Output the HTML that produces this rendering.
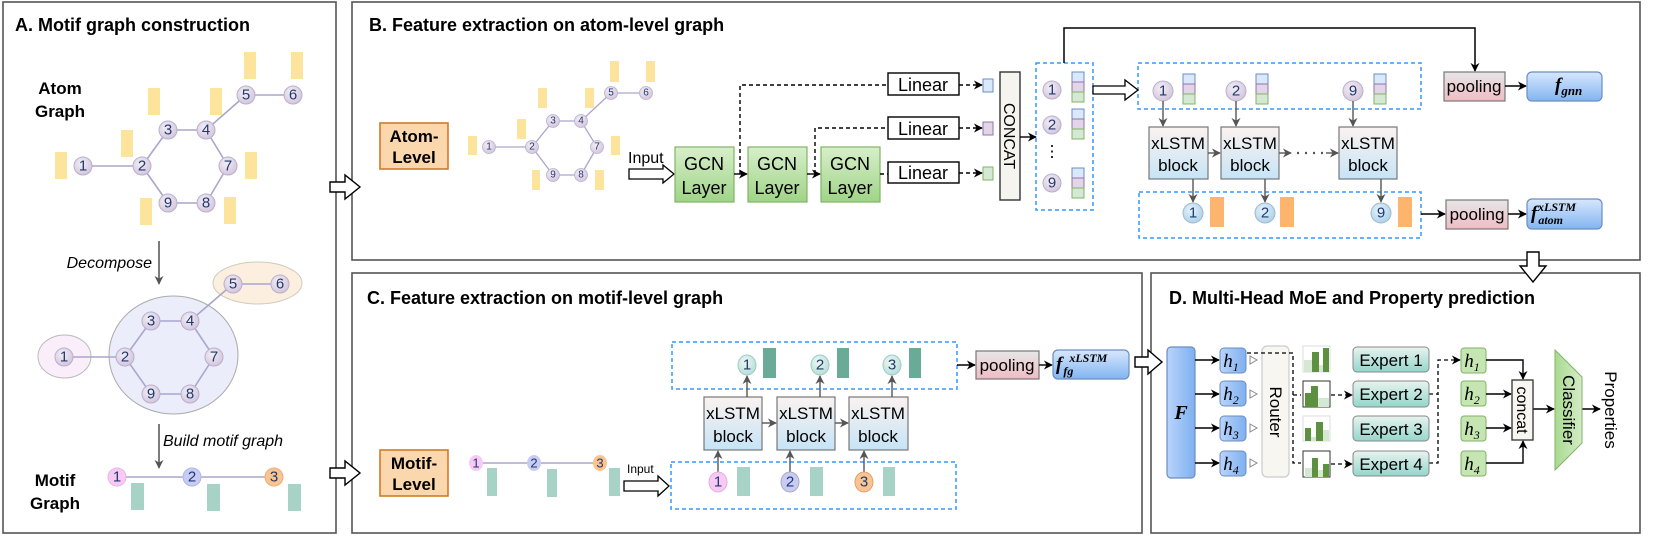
<!DOCTYPE html>
<html><head><meta charset="utf-8"><style>
html,body{margin:0;padding:0;background:#fff;}
svg{display:block;font-family:"Liberation Sans",sans-serif;}
.t{font-weight:bold;font-size:18px;fill:#000;}
.n{font-size:15px;fill:#1f3a6e;text-anchor:middle;dominant-baseline:central;}
.m{font-family:"Liberation Serif",serif;font-style:italic;}
</style></head><body>
<svg width="1661" height="560" viewBox="0 0 1661 560" xmlns="http://www.w3.org/2000/svg">
<defs>
<radialGradient id="ng" cx="40%" cy="35%" r="70%"><stop offset="0" stop-color="#f3eef6"/><stop offset="1" stop-color="#d2c4da"/></radialGradient>
<radialGradient id="bg" cx="40%" cy="35%" r="70%"><stop offset="0" stop-color="#e6f3fb"/><stop offset="1" stop-color="#a9d0e8"/></radialGradient>
<radialGradient id="tg" cx="40%" cy="35%" r="70%"><stop offset="0" stop-color="#eef8f4"/><stop offset="1" stop-color="#b6ddd2"/></radialGradient>
<linearGradient id="gcn" x1="0" y1="0" x2="0" y2="1"><stop offset="0" stop-color="#d8efcb"/><stop offset="1" stop-color="#9fd487"/></linearGradient>
<linearGradient id="xl" x1="0" y1="0" x2="0" y2="1"><stop offset="0" stop-color="#fbf2f0"/><stop offset="1" stop-color="#c6e4f6"/></linearGradient>
<linearGradient id="pl" x1="0" y1="0" x2="0" y2="1"><stop offset="0" stop-color="#e6e6e6"/><stop offset="1" stop-color="#efbcc4"/></linearGradient>
<linearGradient id="fb" x1="0" y1="0" x2="0" y2="1"><stop offset="0" stop-color="#d8e7fc"/><stop offset="1" stop-color="#82b5f1"/></linearGradient>
<linearGradient id="fh" x1="0" y1="0" x2="1" y2="0"><stop offset="0" stop-color="#b9d4fb"/><stop offset="1" stop-color="#7fb0f0"/></linearGradient>
<linearGradient id="ex" x1="0" y1="0" x2="0" y2="1"><stop offset="0" stop-color="#e9f3ef"/><stop offset="1" stop-color="#93d6cb"/></linearGradient>
<linearGradient id="cl" x1="0" y1="0" x2="1" y2="0"><stop offset="0" stop-color="#a9da90"/><stop offset="1" stop-color="#d4ecc8"/></linearGradient>
<marker id="a" viewBox="0 0 10 10" refX="9" refY="5" markerWidth="9" markerHeight="9" orient="auto" markerUnits="userSpaceOnUse"><path d="M0,0 L10,5 L0,10 L3,5 z" fill="#000"/></marker>
<marker id="g" viewBox="0 0 10 10" refX="9" refY="5" markerWidth="9" markerHeight="9" orient="auto" markerUnits="userSpaceOnUse"><path d="M0,0 L10,5 L0,10 L3,5 z" fill="#555"/></marker>
</defs>

<!-- panels -->
<g fill="none" stroke="#555" stroke-width="1.6">
<rect x="3" y="2" width="333" height="531"/>
<rect x="352" y="2" width="1288" height="258"/>
<rect x="352" y="273" width="790" height="260"/>
<rect x="1151" y="273" width="489" height="260"/>
</g>
<text class="t" x="15" y="31">A. Motif graph construction</text>
<text class="t" x="369" y="31">B. Feature extraction on atom-level graph</text>
<text class="t" x="367" y="304">C. Feature extraction on motif-level graph</text>
<text class="t" x="1169" y="304">D. Multi-Head MoE and Property prediction</text>

<!-- hollow arrows between panels -->
<g fill="#fff" stroke="#000" stroke-width="1.4">
<path d="M330,182 L345,182 L345,175 L360,187 L345,199 L345,192 L330,192 z"/>
<path d="M330,468 L345,468 L345,461 L360,473 L345,485 L345,478 L330,478 z"/>
<path d="M1527,252 L1539,252 L1539,266 L1546,266 L1533,282 L1520,266 L1527,266 z"/>
<path d="M1135,357 L1148,357 L1148,350 L1162,362 L1148,374 L1148,367 L1135,367 z"/>
</g>

<!-- ===== Panel A ===== -->
<text x="60" y="94" font-size="17" font-weight="bold" text-anchor="middle">Atom</text>
<text x="60" y="117" font-size="17" font-weight="bold" text-anchor="middle">Graph</text>
<g fill="#fde49c">
<rect x="55" y="152" width="12" height="27"/><rect x="121" y="130" width="12" height="27"/><rect x="148" y="88" width="12" height="27"/>
<rect x="210" y="88" width="12" height="27"/><rect x="244" y="52" width="12" height="27"/><rect x="291" y="52" width="12" height="27"/>
<rect x="245" y="152" width="12" height="27"/><rect x="140" y="198" width="12" height="27"/><rect x="224" y="197" width="12" height="27"/>
</g>
<g stroke="#aaa6cc" stroke-width="1.6">
<line x1="83" y1="166" x2="142" y2="166"/><line x1="142" y1="166" x2="168" y2="130"/><line x1="168" y1="130" x2="206" y2="130"/>
<line x1="206" y1="130" x2="228" y2="166"/><line x1="228" y1="166" x2="206" y2="203"/><line x1="206" y1="203" x2="168" y2="203"/>
<line x1="168" y1="203" x2="142" y2="166"/><line x1="206" y1="130" x2="246" y2="95"/><line x1="246" y1="95" x2="293" y2="95"/>
</g>
<g fill="url(#ng)" stroke="#b9b0cf" stroke-width="1">
<circle cx="83" cy="166" r="9"/><circle cx="142" cy="166" r="9"/><circle cx="168" cy="130" r="9"/><circle cx="206" cy="130" r="9"/>
<circle cx="246" cy="95" r="9"/><circle cx="293" cy="95" r="9"/><circle cx="228" cy="166" r="9"/><circle cx="206" cy="203" r="9"/><circle cx="168" cy="203" r="9"/>
</g>
<g class="n" font-size="17"><text x="83" y="166" class="n">1</text><text x="142" y="166" class="n">2</text><text x="168" y="130" class="n">3</text><text x="206" y="130" class="n">4</text><text x="246" y="95" class="n">5</text><text x="293" y="95" class="n">6</text><text x="228" y="166" class="n">7</text><text x="206" y="203" class="n">8</text><text x="168" y="203" class="n">9</text></g>

<line x1="159" y1="241" x2="159" y2="284" stroke="#444" stroke-width="1.4" marker-end="url(#g)"/>
<text x="152" y="268" font-size="16" font-style="italic" text-anchor="end">Decompose</text>

<ellipse cx="173.5" cy="355" rx="64.5" ry="59" fill="#ecedfa" stroke="#aaa" stroke-width="1"/>
<ellipse cx="64.5" cy="356.5" rx="26.5" ry="21.5" fill="#fbeefb" stroke="#bbb" stroke-width="1"/>
<ellipse cx="257.5" cy="283" rx="44.5" ry="21" fill="#fcefdf" stroke="#ccb" stroke-width="1"/>
<g stroke="#aaa6cc" stroke-width="1.6">
<line x1="64" y1="357" x2="125" y2="357"/><line x1="125" y1="357" x2="151" y2="321"/><line x1="151" y1="321" x2="190" y2="321"/>
<line x1="190" y1="321" x2="214" y2="357"/><line x1="214" y1="357" x2="190" y2="394"/><line x1="190" y1="394" x2="151" y2="394"/>
<line x1="151" y1="394" x2="125" y2="357"/><line x1="190" y1="321" x2="233" y2="284"/><line x1="233" y1="284" x2="280" y2="284"/>
</g>
<g fill="url(#ng)" stroke="#b9b0cf" stroke-width="1">
<circle cx="64" cy="357" r="9"/><circle cx="125" cy="357" r="9"/><circle cx="151" cy="321" r="9"/><circle cx="190" cy="321" r="9"/>
<circle cx="233" cy="284" r="9"/><circle cx="280" cy="284" r="9"/><circle cx="214" cy="357" r="9"/><circle cx="190" cy="394" r="9"/><circle cx="151" cy="394" r="9"/>
</g>
<g><text x="64" y="357" class="n">1</text><text x="125" y="357" class="n">2</text><text x="151" y="321" class="n">3</text><text x="190" y="321" class="n">4</text><text x="233" y="284" class="n">5</text><text x="280" y="284" class="n">6</text><text x="214" y="357" class="n">7</text><text x="190" y="394" class="n">8</text><text x="151" y="394" class="n">9</text></g>

<line x1="159" y1="424" x2="159" y2="468" stroke="#444" stroke-width="1.4" marker-end="url(#g)"/>
<text x="163" y="446" font-size="16" font-style="italic">Build motif graph</text>

<text x="55" y="486" font-size="17" font-weight="bold" text-anchor="middle">Motif</text>
<text x="55" y="509" font-size="17" font-weight="bold" text-anchor="middle">Graph</text>
<line x1="117" y1="477" x2="274" y2="477" stroke="#aaa6cc" stroke-width="1.6"/>
<g fill="#a6d3c5"><rect x="131" y="483" width="13" height="27"/><rect x="207" y="484" width="13" height="27"/><rect x="288" y="484" width="13" height="27"/></g>
<circle cx="117" cy="477" r="9" fill="#f9c9f5" stroke="#e6b6e6"/><circle cx="192" cy="477" r="9" fill="#c8ccf5" stroke="#b0b6e6"/><circle cx="274" cy="477" r="9" fill="#fbc38f" stroke="#eab07a"/>
<text x="117" y="477" class="n">1</text><text x="192" y="477" class="n">2</text><text x="274" y="477" class="n">3</text>

<!-- ===== Panel B ===== -->
<rect x="380" y="123" width="68" height="46" fill="#fad7ac" stroke="#d17b26" stroke-width="1.6"/>
<text x="414" y="142" font-size="17" font-weight="bold" text-anchor="middle">Atom-</text>
<text x="414" y="163" font-size="17" font-weight="bold" text-anchor="middle">Level</text>

<g fill="#fde49c">
<rect x="468" y="136" width="9" height="19"/><rect x="517" y="119" width="9" height="20"/><rect x="538" y="88" width="9" height="20"/>
<rect x="585" y="88" width="9" height="20"/><rect x="610" y="61" width="9" height="21"/><rect x="646" y="61" width="9" height="21"/>
<rect x="611" y="136" width="9" height="19"/><rect x="532" y="170" width="8" height="20"/><rect x="595" y="170" width="9" height="20"/>
</g>
<g stroke="#aaa6cc" stroke-width="1.3">
<line x1="489" y1="147" x2="532" y2="147"/><line x1="532" y1="147" x2="553" y2="121"/><line x1="553" y1="121" x2="581" y2="121"/>
<line x1="581" y1="121" x2="597" y2="147"/><line x1="597" y1="147" x2="581" y2="175"/><line x1="581" y1="175" x2="553" y2="175"/>
<line x1="553" y1="175" x2="532" y2="147"/><line x1="581" y1="121" x2="611" y2="93"/><line x1="611" y1="93" x2="646" y2="93"/>
</g>
<g fill="url(#ng)" stroke="#b9b0cf" stroke-width="0.8">
<circle cx="489" cy="147" r="6.5"/><circle cx="532" cy="147" r="6.5"/><circle cx="553" cy="121" r="6.5"/><circle cx="581" cy="121" r="6.5"/>
<circle cx="611" cy="93" r="6.5"/><circle cx="646" cy="93" r="6.5"/><circle cx="597" cy="147" r="6.5"/><circle cx="581" cy="175" r="6.5"/><circle cx="553" cy="175" r="6.5"/>
</g>
<g font-size="10" fill="#1f3a6e" text-anchor="middle" dominant-baseline="central">
<text x="489" y="147">1</text><text x="532" y="147">2</text><text x="553" y="121">3</text><text x="581" y="121">4</text><text x="611" y="93">5</text><text x="646" y="93">6</text><text x="597" y="147">7</text><text x="581" y="175">8</text><text x="553" y="175">9</text>
</g>

<text x="628" y="163" font-size="16">Input</text>
<path d="M629,169 L663,169 L663,165 L674,174 L663,183 L663,179 L629,179 z" fill="#fff" stroke="#000" stroke-width="1.3"/>

<g fill="url(#gcn)" stroke="#82b366" stroke-width="1.2">
<rect x="675" y="147" width="59" height="55"/><rect x="748" y="147" width="59" height="55"/><rect x="821" y="147" width="59" height="55"/>
</g>
<g font-size="18" text-anchor="middle">
<text x="704" y="170">GCN</text><text x="704" y="194">Layer</text>
<text x="777" y="170">GCN</text><text x="777" y="194">Layer</text>
<text x="850" y="170">GCN</text><text x="850" y="194">Layer</text>
</g>
<g stroke="#000" stroke-width="1.4"><line x1="734" y1="174" x2="747" y2="174" marker-end="url(#a)"/><line x1="807" y1="174" x2="820" y2="174" marker-end="url(#a)"/></g>
<g fill="none" stroke="#000" stroke-width="1.4" stroke-dasharray="4,3">
<polyline points="740,174 740,85 888,85"/><polyline points="815,174 815,128 888,128"/><line x1="880" y1="174" x2="888" y2="174"/>
<line x1="959" y1="85" x2="982" y2="85" marker-end="url(#a)"/><line x1="959" y1="128" x2="982" y2="128" marker-end="url(#a)"/><line x1="959" y1="173" x2="982" y2="173" marker-end="url(#a)"/>
</g>
<g fill="#fff" stroke="#000" stroke-width="1.4"><rect x="888" y="73" width="71" height="22"/><rect x="888" y="117" width="71" height="22"/><rect x="888" y="162" width="71" height="21"/></g>
<g font-size="18" text-anchor="middle"><text x="923" y="91">Linear</text><text x="923" y="135">Linear</text><text x="923" y="179">Linear</text></g>
<rect x="983" y="79" width="10" height="13" fill="#dae8fc" stroke="#6c8ebf"/>
<rect x="983" y="122" width="10" height="13" fill="#e1d5e7" stroke="#9673a6"/>
<rect x="983" y="167" width="10" height="13" fill="#d5e8d4" stroke="#82b366"/>
<rect x="1000" y="72" width="20" height="128" fill="#f6f4ee" stroke="#333" stroke-width="1.4"/>
<text transform="translate(1004,136) rotate(90)" font-size="16" text-anchor="middle">CONCAT</text>
<line x1="1020" y1="137" x2="1036" y2="137" stroke="#000" stroke-width="1.4" marker-end="url(#a)"/>

<g fill="none" stroke="#3399ff" stroke-width="1.5" stroke-dasharray="4,3">
<rect x="1036" y="63" width="57" height="147"/><rect x="1138" y="63" width="283" height="46"/><rect x="1139" y="192" width="282" height="46"/>
</g>
<!-- stacks helper -->
<g stroke-width="1">
<g transform="translate(1072,72)"><rect width="12" height="10" fill="#dae8fc" stroke="#6c8ebf"/><rect y="10" width="12" height="10" fill="#e1d5e7" stroke="#9673a6"/><rect y="20" width="12" height="10" fill="#d5e8d4" stroke="#82b366"/></g>
<g transform="translate(1072,109)"><rect width="12" height="10" fill="#dae8fc" stroke="#6c8ebf"/><rect y="10" width="12" height="10" fill="#e1d5e7" stroke="#9673a6"/><rect y="20" width="12" height="10" fill="#d5e8d4" stroke="#82b366"/></g>
<g transform="translate(1072,168)"><rect width="12" height="10" fill="#dae8fc" stroke="#6c8ebf"/><rect y="10" width="12" height="10" fill="#e1d5e7" stroke="#9673a6"/><rect y="20" width="12" height="10" fill="#d5e8d4" stroke="#82b366"/></g>
<g transform="translate(1183,74)"><rect width="12" height="10" fill="#dae8fc" stroke="#6c8ebf"/><rect y="10" width="12" height="10" fill="#e1d5e7" stroke="#9673a6"/><rect y="20" width="12" height="10" fill="#d5e8d4" stroke="#82b366"/></g>
<g transform="translate(1256,74)"><rect width="12" height="10" fill="#dae8fc" stroke="#6c8ebf"/><rect y="10" width="12" height="10" fill="#e1d5e7" stroke="#9673a6"/><rect y="20" width="12" height="10" fill="#d5e8d4" stroke="#82b366"/></g>
<g transform="translate(1374,74)"><rect width="12" height="10" fill="#dae8fc" stroke="#6c8ebf"/><rect y="10" width="12" height="10" fill="#e1d5e7" stroke="#9673a6"/><rect y="20" width="12" height="10" fill="#d5e8d4" stroke="#82b366"/></g>
</g>
<g fill="url(#ng)" stroke="#b9b0cf"><circle cx="1052" cy="90" r="9"/><circle cx="1052" cy="125" r="9"/><circle cx="1052" cy="183" r="9"/>
<circle cx="1163" cy="91" r="10"/><circle cx="1236" cy="91" r="10"/><circle cx="1353" cy="91" r="10"/></g>
<text x="1052" y="90" class="n">1</text><text x="1052" y="125" class="n">2</text><text x="1052" y="183" class="n">9</text>
<text x="1052" y="152" font-size="16" text-anchor="middle" dominant-baseline="central">⋮</text>
<text x="1163" y="91" class="n">1</text><text x="1236" y="91" class="n">2</text><text x="1353" y="91" class="n">9</text>
<path d="M1093,86 L1125,86 L1125,80 L1138,90 L1125,100 L1125,94 L1093,94 z" fill="#fff" stroke="#000" stroke-width="1.3"/>

<g fill="url(#xl)" stroke="#777" stroke-width="1.2"><rect x="1149" y="127" width="59" height="52"/><rect x="1221" y="127" width="58" height="52"/><rect x="1339" y="127" width="58" height="52"/></g>
<g font-size="17" text-anchor="middle"><text x="1178" y="149">xLSTM</text><text x="1178" y="171">block</text><text x="1250" y="149">xLSTM</text><text x="1250" y="171">block</text><text x="1368" y="149">xLSTM</text><text x="1368" y="171">block</text></g>
<g stroke="#555" stroke-width="1.4">
<line x1="1163" y1="101" x2="1163" y2="126" marker-end="url(#g)"/><line x1="1236" y1="101" x2="1236" y2="126" marker-end="url(#g)"/><line x1="1353" y1="101" x2="1353" y2="126" marker-end="url(#g)"/>
<line x1="1208" y1="153" x2="1220" y2="153" marker-end="url(#g)"/><line x1="1279" y1="153" x2="1291" y2="153" marker-end="url(#g)"/>
<line x1="1297" y1="153" x2="1325" y2="153" stroke-dasharray="2,6" stroke-width="2.2"/><line x1="1326" y1="153" x2="1338" y2="153" marker-end="url(#g)"/>
<line x1="1193" y1="179" x2="1193" y2="202" marker-end="url(#g)"/><line x1="1265" y1="179" x2="1265" y2="202" marker-end="url(#g)"/><line x1="1381" y1="179" x2="1381" y2="202" marker-end="url(#g)"/>
</g>
<g fill="url(#bg)" stroke="#9fb9cc"><circle cx="1193" cy="213" r="10"/><circle cx="1265" cy="213" r="10"/><circle cx="1381" cy="213" r="10"/></g>
<text x="1193" y="213" class="n">1</text><text x="1265" y="213" class="n">2</text><text x="1381" y="213" class="n">9</text>
<g fill="#fdb46c"><rect x="1210" y="197" width="14" height="30"/><rect x="1280" y="197" width="14" height="30"/><rect x="1398" y="197" width="14" height="30"/></g>

<polyline points="1064,63 1064,28 1475,28 1475,71" fill="none" stroke="#000" stroke-width="1.5" marker-end="url(#a)"/>
<rect x="1444" y="72" width="61" height="29" fill="url(#pl)" stroke="#777" stroke-width="1.2"/>
<text x="1474" y="92" font-size="17" text-anchor="middle">pooling</text>
<line x1="1505" y1="86" x2="1526" y2="86" stroke="#000" stroke-width="1.4" marker-end="url(#a)"/>
<rect x="1527" y="72" width="75" height="29" rx="5" fill="url(#fb)" stroke="#6c8ebf" stroke-width="1.2"/>
<text x="1555" y="91" font-size="19" class="m" font-weight="bold">f<tspan font-size="13" dy="4">gnn</tspan></text>

<line x1="1421" y1="214" x2="1445" y2="214" stroke="#000" stroke-width="1.4" marker-end="url(#a)"/>
<rect x="1446" y="200" width="62" height="29" fill="url(#pl)" stroke="#777" stroke-width="1.2"/>
<text x="1477" y="220" font-size="17" text-anchor="middle">pooling</text>
<line x1="1508" y1="214" x2="1526" y2="214" stroke="#000" stroke-width="1.4" marker-end="url(#a)"/>
<rect x="1527" y="199" width="75" height="30" rx="5" fill="url(#fb)" stroke="#6c8ebf" stroke-width="1.2"/>
<text x="1531" y="219" font-size="19" class="m" font-weight="bold">f<tspan font-size="12" dx="1" dy="5">atom</tspan><tspan font-size="12" dx="-25" dy="-13">xLSTM</tspan></text>

<!-- ===== Panel C ===== -->
<rect x="380" y="450" width="68" height="46" fill="#fad7ac" stroke="#d17b26" stroke-width="1.6"/>
<text x="414" y="469" font-size="17" font-weight="bold" text-anchor="middle">Motif-</text>
<text x="414" y="490" font-size="17" font-weight="bold" text-anchor="middle">Level</text>
<line x1="476" y1="463" x2="600" y2="463" stroke="#aaa6cc" stroke-width="1.4"/>
<g fill="#a6d3c5"><rect x="487" y="468" width="10" height="28"/><rect x="547" y="469" width="10" height="28"/><rect x="609" y="468" width="11" height="28"/></g>
<ellipse cx="476" cy="463" rx="7" ry="8" fill="#f9c9f5"/><ellipse cx="534" cy="463" rx="7" ry="8" fill="#c8ccf5"/><ellipse cx="600" cy="463" rx="7" ry="8" fill="#fbc38f"/>
<g font-size="13" fill="#1f3a6e" text-anchor="middle" dominant-baseline="central"><text x="476" y="463">1</text><text x="534" y="463">2</text><text x="600" y="463">3</text></g>
<text x="627" y="473" font-size="12">Input</text>
<path d="M624,481 L658,481 L658,476 L669,486 L658,496 L658,491 L624,491 z" fill="#fff" stroke="#000" stroke-width="1.3"/>

<g fill="none" stroke="#3399ff" stroke-width="1.5" stroke-dasharray="4,3"><rect x="672" y="342" width="285" height="47"/><rect x="671" y="462" width="285" height="47"/></g>
<g fill="url(#xl)" stroke="#777" stroke-width="1.2"><rect x="704" y="397" width="58" height="53"/><rect x="777" y="397" width="58" height="53"/><rect x="849" y="397" width="59" height="53"/></g>
<g font-size="17" text-anchor="middle"><text x="733" y="419">xLSTM</text><text x="733" y="442">block</text><text x="806" y="419">xLSTM</text><text x="806" y="442">block</text><text x="878" y="419">xLSTM</text><text x="878" y="442">block</text></g>
<g stroke="#555" stroke-width="1.4">
<line x1="762" y1="423" x2="776" y2="423" marker-end="url(#g)"/><line x1="835" y1="423" x2="848" y2="423" marker-end="url(#g)"/>
<line x1="747" y1="397" x2="747" y2="376" marker-end="url(#g)"/><line x1="820" y1="397" x2="820" y2="376" marker-end="url(#g)"/><line x1="892" y1="397" x2="892" y2="376" marker-end="url(#g)"/>
<line x1="718" y1="472" x2="718" y2="451" marker-end="url(#g)"/><line x1="790" y1="472" x2="790" y2="451" marker-end="url(#g)"/><line x1="864" y1="472" x2="864" y2="451" marker-end="url(#g)"/>
</g>
<g fill="#6aab97"><rect x="763" y="348" width="13" height="30"/><rect x="837" y="348" width="12" height="30"/><rect x="909" y="348" width="12" height="30"/></g>
<g fill="#a6d3c5"><rect x="737" y="467" width="13" height="29"/><rect x="810" y="467" width="13" height="29"/><rect x="883" y="467" width="12" height="29"/></g>
<g fill="url(#tg)" stroke="#9cc"><ellipse cx="747" cy="365" rx="9" ry="10"/><ellipse cx="820" cy="365" rx="9" ry="10"/><ellipse cx="892" cy="365" rx="9" ry="10"/></g>
<ellipse cx="718" cy="482" rx="9" ry="10" fill="#f9c9f5" stroke="#e0b0e0"/><ellipse cx="790" cy="482" rx="9" ry="10" fill="#c8ccf5" stroke="#aab"/><ellipse cx="864" cy="482" rx="9" ry="10" fill="#fbc38f" stroke="#e0a070"/>
<text x="747" y="365" class="n">1</text><text x="820" y="365" class="n">2</text><text x="892" y="365" class="n">3</text>
<text x="718" y="482" class="n">1</text><text x="790" y="482" class="n">2</text><text x="864" y="482" class="n">3</text>
<line x1="957" y1="365" x2="975" y2="365" stroke="#000" stroke-width="1.4" marker-end="url(#a)"/>
<rect x="976" y="351" width="63" height="28" fill="url(#pl)" stroke="#777" stroke-width="1.2"/>
<text x="1007" y="371" font-size="17" text-anchor="middle">pooling</text>
<line x1="1039" y1="365" x2="1052" y2="365" stroke="#000" stroke-width="1.4" marker-end="url(#a)"/>
<rect x="1053" y="350" width="76" height="29" rx="5" fill="url(#fb)" stroke="#6c8ebf" stroke-width="1.2"/>
<text x="1056" y="370" font-size="19" class="m" font-weight="bold">f<tspan font-size="12" dx="1" dy="5">fg</tspan><tspan font-size="12" dx="-4" dy="-13">xLSTM</tspan></text>

<!-- ===== Panel D ===== -->
<rect x="1167" y="347" width="28" height="131" rx="4" fill="url(#fh)" stroke="#6c8ebf" stroke-width="1.2"/>
<text x="1181" y="419" font-size="20" class="m" font-weight="bold" text-anchor="middle">F</text>
<g stroke="#000" stroke-width="1.4">
<line x1="1195" y1="360" x2="1219" y2="360" marker-end="url(#a)"/><line x1="1195" y1="394" x2="1219" y2="394" marker-end="url(#a)"/>
<line x1="1195" y1="428" x2="1219" y2="428" marker-end="url(#a)"/><line x1="1195" y1="463" x2="1219" y2="463" marker-end="url(#a)"/>
</g>
<g fill="url(#fh)" stroke="#6c8ebf" stroke-width="1"><rect x="1220" y="348" width="26" height="25" rx="4"/><rect x="1220" y="381" width="26" height="25" rx="4"/><rect x="1220" y="416" width="26" height="25" rx="4"/><rect x="1220" y="451" width="26" height="25" rx="4"/></g>
<g font-size="19" class="m" text-anchor="middle"><text x="1231" y="367">h<tspan font-size="12" dy="4">1</tspan></text><text x="1231" y="400">h<tspan font-size="12" dy="4">2</tspan></text><text x="1231" y="435">h<tspan font-size="12" dy="4">3</tspan></text><text x="1231" y="470">h<tspan font-size="12" dy="4">4</tspan></text></g>
<g fill="#fff" stroke="#888"><path d="M1250,356 L1257,360 L1250,364 z"/><path d="M1250,390 L1257,394 L1250,398 z"/><path d="M1250,424 L1257,428 L1250,432 z"/><path d="M1250,459 L1257,463 L1250,467 z"/></g>
<rect x="1262" y="346" width="27" height="131" rx="5" fill="#f8f6f0" stroke="#ccc" stroke-width="1.2"/>
<text transform="translate(1270,412) rotate(90)" font-size="17" text-anchor="middle">Router</text>
<g fill="none" stroke="#000" stroke-width="1.3" stroke-dasharray="4,3">
<polyline points="1247,353 1293,353 1293,463 1301,463"/><line x1="1293" y1="395" x2="1301" y2="395"/>
<line x1="1331" y1="395" x2="1352" y2="395" marker-end="url(#a)"/><line x1="1331" y1="464" x2="1352" y2="464" marker-end="url(#a)"/>
<polyline points="1429,394 1438,394 1438,360 1460,360" marker-end="url(#a)"/><polyline points="1429,463 1438,463 1438,394"/>
</g>
<!-- bar charts -->
<g>
<rect x="1303" y="346" width="27" height="26" fill="#fff" stroke="#ddd"/>
<rect x="1304" y="360" width="8" height="12" fill="#d5e8d4"/><rect x="1312" y="352" width="7" height="20" fill="#5d9140"/><rect x="1319" y="365" width="4" height="7" fill="#d5e8d4"/><rect x="1323" y="348" width="6" height="24" fill="#5d9140"/>
<rect x="1303" y="381" width="27" height="26" fill="#fff" stroke="#333"/>
<rect x="1305" y="393" width="6" height="14" fill="#5d9140"/><rect x="1311" y="386" width="7" height="21" fill="#5d9140"/><rect x="1318" y="398" width="11" height="9" fill="#d5e8d4"/>
<rect x="1303" y="416" width="27" height="25" fill="#fff" stroke="#ddd"/>
<rect x="1305" y="428" width="6" height="13" fill="#5d9140"/><rect x="1311" y="437" width="5" height="4" fill="#d5e8d4"/><rect x="1316" y="422" width="7" height="19" fill="#5d9140"/><rect x="1323" y="430" width="6" height="11" fill="#d5e8d4"/>
<rect x="1303" y="451" width="27" height="26" fill="#fff" stroke="#333"/>
<rect x="1305" y="468" width="7" height="9" fill="#d5e8d4"/><rect x="1312" y="458" width="6" height="19" fill="#5d9140"/><rect x="1318" y="470" width="5" height="7" fill="#d5e8d4"/><rect x="1323" y="464" width="6" height="13" fill="#5d9140"/>
</g>
<g fill="url(#ex)" stroke="#888" stroke-width="1"><rect x="1353" y="347" width="76" height="25" rx="4"/><rect x="1353" y="381" width="76" height="26" rx="4"/><rect x="1353" y="416" width="76" height="25" rx="4"/><rect x="1353" y="451" width="76" height="25" rx="4"/></g>
<g font-size="17" text-anchor="middle"><text x="1391" y="366">Expert 1</text><text x="1391" y="400">Expert 2</text><text x="1391" y="435">Expert 3</text><text x="1391" y="470">Expert 4</text></g>
<g fill="#c5e5b2" stroke="#82b366" stroke-width="1"><rect x="1461" y="348" width="25" height="25" rx="3"/><rect x="1461" y="381" width="25" height="25" rx="3"/><rect x="1461" y="416" width="25" height="25" rx="3"/><rect x="1461" y="451" width="25" height="25" rx="3"/></g>
<g font-size="19" class="m" text-anchor="middle"><text x="1472" y="367">h<tspan font-size="12" dy="4">1</tspan></text><text x="1472" y="400">h<tspan font-size="12" dy="4">2</tspan></text><text x="1472" y="435">h<tspan font-size="12" dy="4">3</tspan></text><text x="1472" y="470">h<tspan font-size="12" dy="4">4</tspan></text></g>
<g fill="none" stroke="#000" stroke-width="1.4">
<polyline points="1486,360 1523,360 1523,379" marker-end="url(#a)"/><polyline points="1486,463 1523,463 1523,441" marker-end="url(#a)"/>
<line x1="1486" y1="394" x2="1511" y2="394" marker-end="url(#a)"/><line x1="1486" y1="428" x2="1511" y2="428" marker-end="url(#a)"/>
<line x1="1533" y1="409" x2="1554" y2="409" marker-end="url(#a)"/><line x1="1582" y1="409" x2="1600" y2="409" marker-end="url(#a)"/>
</g>
<rect x="1512" y="380" width="21" height="60" fill="#f8f6f0" stroke="#333" stroke-width="1.3"/>
<text transform="translate(1517,410) rotate(90)" font-size="16" text-anchor="middle">concat</text>
<path d="M1555,350 L1582,377 L1582,443 L1555,470 z" fill="url(#cl)" stroke="#82b366" stroke-width="1"/>
<text transform="translate(1563,410) rotate(90)" font-size="17" text-anchor="middle">Classifier</text>
<text transform="translate(1605,410) rotate(90)" font-size="17" text-anchor="middle">Properties</text>
</svg>
</body></html>
